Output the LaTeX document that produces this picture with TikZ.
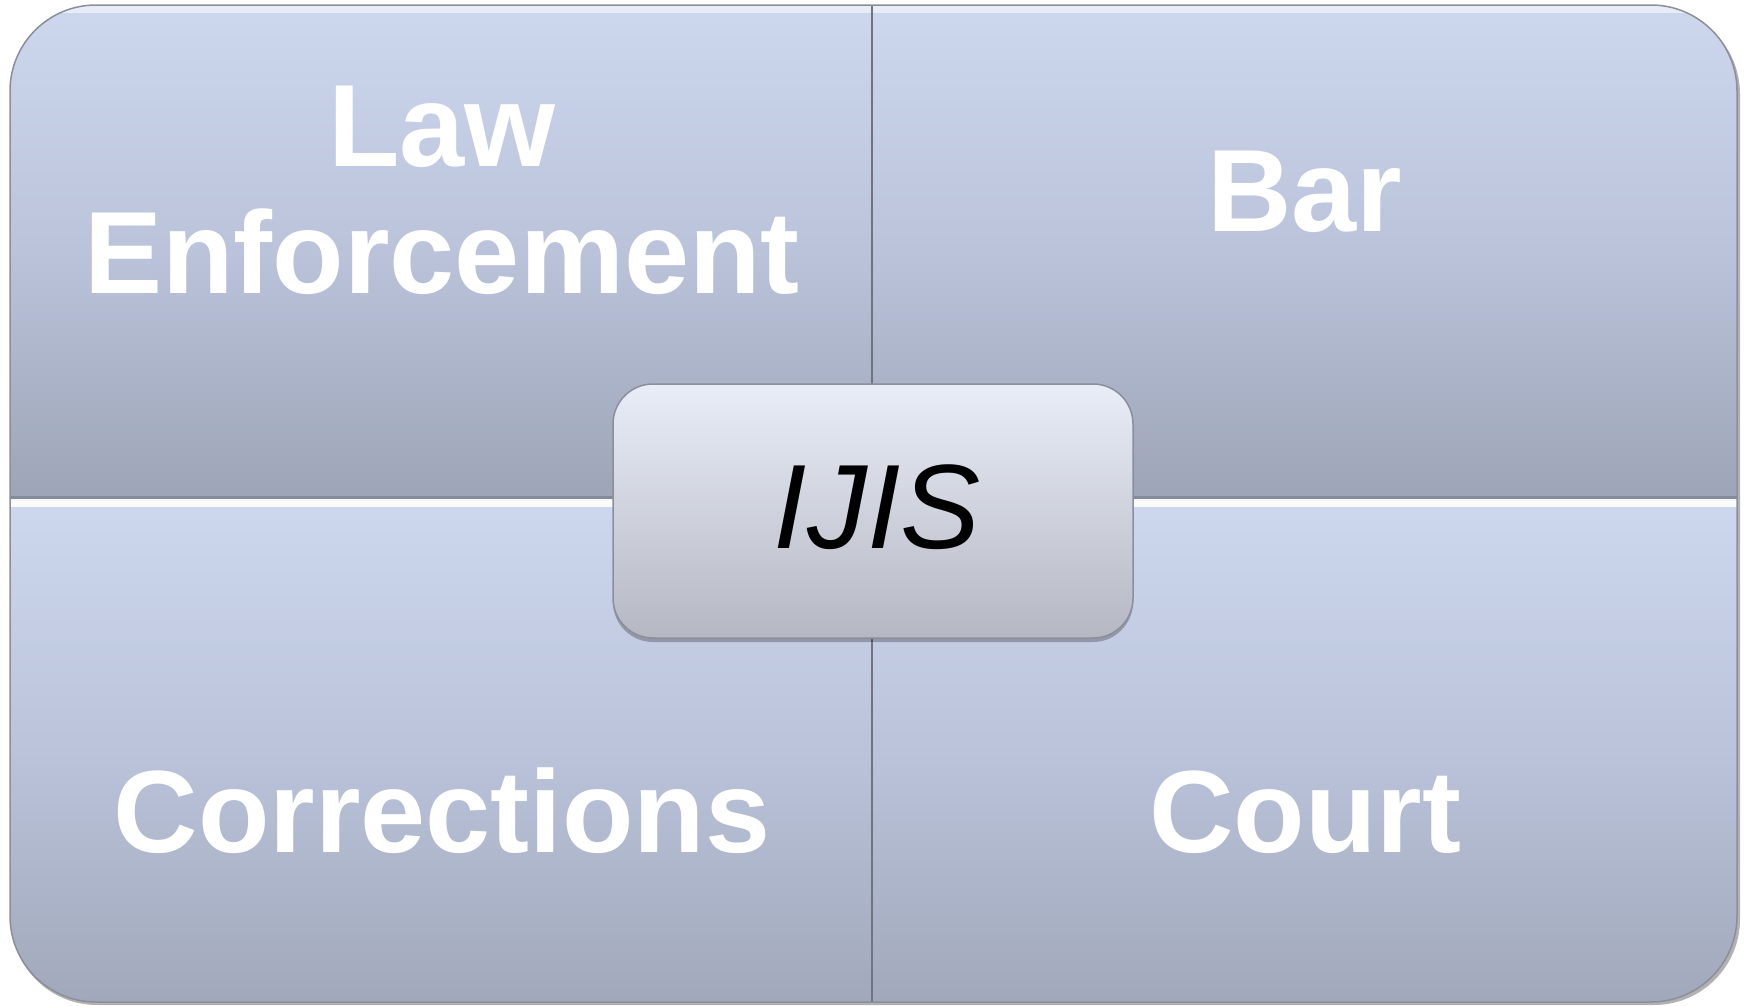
\documentclass[tikz,border=0pt]{standalone}
\usepackage{fontspec}
\setmainfont{Liberation Sans}
\usetikzlibrary{shadows}
\definecolor{qtop}{RGB}{205,215,238}
\definecolor{qmid}{RGB}{186,195,218}
\definecolor{qbot}{RGB}{157,164,183}
\definecolor{qbotB}{RGB}{161,168,187}
\definecolor{ctop}{RGB}{233,237,248}
\definecolor{cbot}{RGB}{181,184,195}
\definecolor{edge}{RGB}{112,116,130}
\definecolor{rim}{RGB}{140,143,155}
\begin{document}
\begin{tikzpicture}[x=1pt,y=-1pt,
  lbl/.style={text=white, font=\fontsize{117}{127}\selectfont\bfseries, align=center, inner sep=0pt},
  hub/.style={rounded corners=40pt, minimum width=520pt, minimum height=254pt,
    top color=ctop, bottom color=cbot, draw=rim, line width=1.5pt,
    text height=86pt, text depth=12pt, inner sep=0pt,
    font=\fontsize{120}{127}\selectfont\itshape, text=black,
    drop shadow={shadow xshift=0pt, shadow yshift=-4pt, opacity=.25, fill=black}},
  divider/.style={edge, line width=2.5pt}]
\useasboundingbox (0,0) rectangle (1745,1005);
% outer shadow
\fill[black!30, rounded corners=86pt] (11,8) rectangle (1740,1005);
\begin{scope}
  \clip[rounded corners=86pt] (10,5) rectangle (1737,1002);
  \shade[top color=qtop, bottom color=qbot, middle color=qmid] (10,5) rectangle (872,499);
  \shade[top color=qtop, bottom color=qbot, middle color=qmid] (872,5) rectangle (1737,499);
  \shade[top color=qtop, bottom color=qbotB, middle color=qmid] (10,501) rectangle (872,1002);
  \shade[top color=qtop, bottom color=qbotB, middle color=qmid] (872,501) rectangle (1737,1002);
  % bevel highlights
  \fill[white, opacity=.9] (10,499) rectangle (1737,507);
  \fill[white, opacity=.55] (10,5) rectangle (1737,13);
  \fill[edge, opacity=.5] (10,496) rectangle (1737,499);
  % dividers
  \draw[divider] (872,5) -- (872,499);
  \draw[divider] (872,501) -- (872,1002);
\end{scope}
\draw[rim, line width=1.5pt, rounded corners=86pt] (10,5) rectangle (1737,1002);
% labels
\node[lbl] (law) at (442,190) {Law\\Enforcement};
\node[lbl, anchor=base] (bar) at (1305,231) {Bar};
\node[lbl, anchor=base] (corr) at (442,852) {Corrections};
\node[lbl, anchor=base] (court) at (1305,852) {Court};
% centre hub
\node[hub] (ijis) at (873,511) {\hspace*{8pt}IJIS};
\end{tikzpicture}
\end{document}
